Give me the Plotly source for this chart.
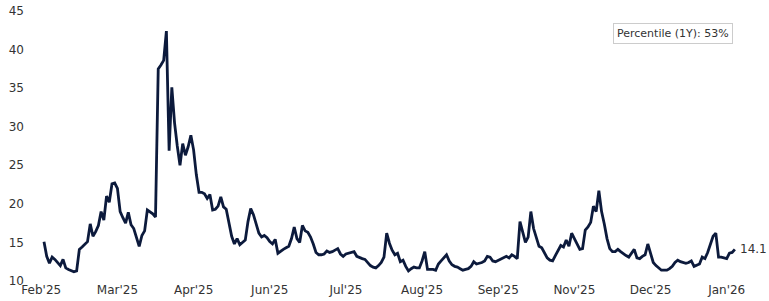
import plotly.graph_objects as go

# Daily index values (trading-day index 1..255)
values = [
    15.1, 13.2, 12.3, 13.1, 12.8, 12.4, 12.0, 12.8, 11.7, 11.5,
    11.4, 11.2, 11.3, 14.1, 14.4, 14.7, 15.1, 17.4, 15.8, 16.4,
    17.2, 19.0, 17.9, 21.0, 20.2, 22.6, 22.7, 22.0, 19.0, 18.2,
    17.5, 18.9, 17.3, 16.8, 15.7, 14.5, 15.9, 16.5, 19.2, 19.0,
    18.7, 18.3, 37.5, 38.0, 38.6, 42.4, 26.9, 35.1, 30.5, 27.5,
    25.0, 27.8, 26.3, 27.4, 28.9, 27.0, 23.8, 21.5, 21.5, 21.3,
    20.7, 21.2, 19.2, 19.3, 19.7, 20.9, 19.6, 19.3, 17.5, 15.8,
    14.8, 15.5, 14.7, 15.0, 15.3, 17.7, 19.4, 18.6, 17.4, 16.2,
    15.7, 15.9, 15.6, 15.1, 14.8, 15.4, 13.6, 13.9, 14.1, 14.3,
    14.5, 15.5, 17.0, 15.5, 15.0, 17.2, 16.5, 16.3, 15.7, 14.8,
    13.7, 13.4, 13.4, 13.5, 13.9, 13.7, 13.8, 14.0, 14.2, 13.5,
    13.2, 13.5, 13.6, 13.8, 13.8, 13.2, 13.0, 12.9, 12.8, 12.4,
    12.0, 11.8, 11.7, 12.0, 12.4, 13.1, 16.2, 14.9, 14.0, 13.4,
    13.6, 12.5, 12.7, 11.9, 11.3, 11.6, 11.8, 11.7, 11.7, 12.6,
    13.8, 11.5, 11.5, 11.5, 11.4, 12.2, 12.6, 13.0, 13.4, 12.6,
    12.1, 11.9, 11.8, 11.6, 11.4, 11.5, 11.6, 11.9, 12.5, 12.2,
    12.3, 12.4, 12.6, 13.2, 13.1, 12.6, 12.5, 12.7, 12.9, 13.1,
    13.2, 13.0, 13.4, 13.2, 12.9, 17.7, 16.4, 15.0, 15.7, 19.0,
    16.8, 15.5, 14.5, 14.3, 13.6, 13.0, 12.7, 12.6, 13.3, 14.0,
    14.6, 14.4, 15.3, 14.5, 16.2, 15.5, 14.7, 14.1, 14.2, 16.6,
    17.0, 17.6, 19.7, 19.0, 21.7, 19.0, 17.4, 15.5, 14.2, 13.8,
    13.8, 14.1, 13.8, 13.5, 13.3, 13.1, 13.6, 14.1, 13.0, 12.9,
    13.2, 13.4, 14.8, 13.5, 12.4, 12.0, 11.7, 11.4, 11.4, 11.4,
    11.6, 11.9, 12.4, 12.7, 12.5, 12.4, 12.3, 12.4, 12.6, 11.9,
    12.0, 12.2, 13.1, 12.9, 13.7, 14.7, 15.8, 16.2, 13.1, 13.1,
    13.0, 12.9, 13.6, 13.7, 14.1,
]
x_idx = list(range(1, len(values) + 1))

tick_idx = [0, 28, 56, 84, 112, 140, 168, 196, 224, 252]
tick_labels = ["Feb'25", "Mar'25", "Apr'25", "Jun'25", "Jul'25",
               "Aug'25", "Sep'25", "Nov'25", "Dec'25", "Jan'26"]
y_ticks = [10, 15, 20, 25, 30, 35, 40, 45]
percentile_text = "Percentile (1Y): 53%"

LINE = "#0c1a3c"
TXT = "#333333"

fig = go.Figure()
fig.add_trace(go.Scatter(x=x_idx, y=values, mode="lines",
                         line=dict(color=LINE, width=2.8), hoverinfo="skip"))

fig.add_annotation(x=x_idx[-1], y=values[-1], xref="x", yref="y",
                   text=f"{values[-1]:.1f}", showarrow=False,
                   xanchor="left", yanchor="middle", xshift=3,
                   font=dict(size=12, color=TXT))

fig.add_annotation(x=0.894, y=0.918, xref="paper", yref="paper",
                   text=percentile_text, showarrow=False,
                   xanchor="center", yanchor="middle",
                   font=dict(size=11, color=TXT),
                   bgcolor="white", bordercolor="#cccccc", borderwidth=1,
                   borderpad=3)

fig.update_layout(
    width=769, height=301,
    margin=dict(l=28, r=20, t=11, b=20),
    paper_bgcolor="white", plot_bgcolor="white",
    font=dict(family="DejaVu Sans", size=12, color=TXT),
    showlegend=False,
)
fig.update_xaxes(range=[-4.88, 260.2], tickvals=tick_idx, ticktext=tick_labels,
                 showgrid=False, zeroline=False, showline=False, ticks="",
                 automargin=False, ticklabelstandoff=0,
                 tickfont=dict(size=12, color=TXT))
fig.update_yaxes(range=[10, 45], tickvals=y_ticks,
                 showgrid=False, zeroline=False, showline=False, ticks="",
                 automargin=False, ticklabelstandoff=3,
                 tickfont=dict(size=12, color=TXT))

fig.write_html("out.html")
